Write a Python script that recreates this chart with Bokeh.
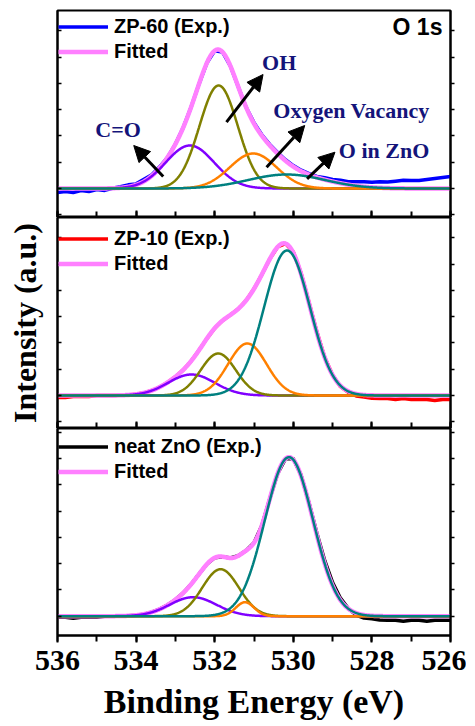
import numpy as np
from bokeh.plotting import figure
from bokeh.layouts import column
from bokeh.models import (Range1d, LinearAxis, SingleIntervalTicker, Legend, LegendItem,
                          Arrow, NormalHead, Label)
from bokeh.embed import file_html
from bokeh.resources import INLINE

# ---------------- data ----------------
x_start, x_end = 536, 526
exp_grid = np.linspace(536.0, 526.0, 51)  # measured points every 0.2 eV

component_names = ["C=O", "OH", "Oxygen Vacancy", "O in ZnO"]
component_colors = ["#8000ff", "#808000", "#ff8000", "#008080"]

# ZP-60 fit components: centre (eV), height (a.u.), FWHM (eV)
zp60_center = [532.63, 531.90, 531.02, 530.17]
zp60_height = [43, 103, 35, 14]
zp60_fwhm = [1.45, 1.15, 1.4, 2.3]
# experimental minus fit (a.u.) at the 0.2 eV grid
zp60_resid = [-4, -3, -4, -2, -3, -1, -2, 0, 1, 2,
              1, 2, 1, 1, 0, 0, 0, 0, 0, 0,
              0, 0, 0, 0, 0, 1, 1, 1, 1, 1,
              1, 1, 1, 1, 2, 2, 3, 3, 4, 5,
              5, 6, 6, 7, 8, 8, 8, 9, 10, 11, 12]

zp10_center = [532.59, 531.91, 531.17, 530.16]
zp10_height = [21, 42, 52, 145]
zp10_fwhm = [1.4, 1.05, 1.15, 1.38]
zp10_resid = [-2, -2, -1, -1, -1, 0, 0, 0, 0, 0,
              0, 0, 0, 0, 0, 0, 0, 0, 0, 0,
              0, 0, 0, 0, 0, 0, 0, 0, 0, 0,
              1, 1, 1, 1, 0, 0, -1, -1, -2, -2,
              -3, -3, -3, -4, -3, -4, -4, -4, -5, -4, -4]

zno_center = [532.55, 531.85, 531.23, 530.11]
zno_height = [19, 47, 14, 159]
zno_fwhm = [1.4, 1.1, 0.55, 1.44]
zno_resid = [-1, -1, -2, -1, -1, -1, 0, 0, 0, 0,
             0, 0, 0, 0, 0, 0, 0, 0, 0, 0,
             0, 0, 0, 0, 0, 0, 0, 0, 0, 0,
             1, 1, 1, 2, 3, 3, 2, 0, -2, -3,
             -3, -4, -4, -4, -5, -4, -4, -5, -4, -4, -4]

SANS = "Liberation Sans"
SERIF = "Liberation Serif"
NAVY = "#14147a"


def gauss(x, c, h, w):
    s = w / 2.3548
    return h * np.exp(-0.5 * ((x - c) / s) ** 2)


def fit_sum(x, centers, heights, fwhms):
    return sum(gauss(x, c, h, w) for c, h, w in zip(centers, heights, fwhms))


def hide_labels(ax):
    ax.major_label_text_color = None
    ax.major_label_text_alpha = 0
    ax.major_label_text_font_size = "0px"
    ax.major_label_standoff = 0


xr = Range1d(x_start, x_end)
xd = np.linspace(536, 526, 801)


def panel(centers, heights, fwhms, resid, exp_label, exp_color, yr, fh, top_border,
          legend_y, bottom=False):
    p = figure(frame_width=393, frame_height=fh, x_range=xr, y_range=Range1d(*yr),
               title=None,
               min_border_left=57, min_border_right=16, min_border_top=top_border,
               min_border_bottom=0, output_backend="svg", toolbar_location=None)
    p.xgrid.visible = False
    p.ygrid.visible = False
    p.outline_line_color = "black"
    p.outline_line_width = 2
    p.background_fill_color = "white"

    xa = p.xaxis[0]
    xa.ticker = SingleIntervalTicker(interval=2, num_minor_ticks=2)
    xa.axis_line_width = 2
    xa.major_tick_line_width = 2
    xa.minor_tick_line_width = 2
    if bottom:
        xa.major_tick_in = 0
        xa.major_tick_out = 7
        xa.minor_tick_in = 0
        xa.minor_tick_out = 6
        xa.major_label_text_font = SERIF
        xa.major_label_text_font_style = "bold"
        xa.major_label_text_font_size = "30px"
        xa.major_label_text_color = "black"
        xa.major_label_standoff = 8
        xa.axis_label = "Binding Energy (eV)"
        xa.axis_label_text_font = SERIF
        xa.axis_label_text_font_style = "bold"
        xa.axis_label_text_font_size = "34px"
        xa.axis_label_text_color = "black"
        xa.axis_label_standoff = 10
    else:
        xa.major_tick_in = 7
        xa.major_tick_out = 0
        xa.minor_tick_in = 6
        xa.minor_tick_out = 0
        hide_labels(xa)

    ya = p.yaxis[0]
    ya.ticker = SingleIntervalTicker(interval=26.3, num_minor_ticks=0)
    ya.axis_line_width = 2
    ya.major_tick_in = 4
    ya.major_tick_out = 0
    ya.major_tick_line_width = 1.5
    hide_labels(ya)

    ra = LinearAxis(ticker=SingleIntervalTicker(interval=26.3, num_minor_ticks=0))
    ra.axis_line_width = 2
    ra.major_tick_in = 0
    ra.major_tick_out = 4
    ra.major_tick_line_width = 1.5
    hide_labels(ra)
    p.add_layout(ra, "right")

    fit = fit_sum(xd, centers, heights, fwhms)
    exp_y = fit_sum(exp_grid, centers, heights, fwhms) + np.array(resid, dtype=float)
    r_exp = p.line(exp_grid, exp_y, line_color=exp_color, line_width=3.5, line_join="round")
    r_fit = p.line(xd, fit, line_color="#ff80ff", line_width=4.5, line_join="round")
    for c, h, w, col in zip(centers, heights, fwhms, component_colors):
        p.line(xd, gauss(xd, c, h, w), line_color=col, line_width=2.5)

    leg = Legend(items=[LegendItem(label=exp_label, renderers=[r_exp]),
                        LegendItem(label="Fitted", renderers=[r_fit])],
                 location=(1, legend_y), padding=0, spacing=0, margin=0,
                 glyph_width=50, glyph_height=25, label_height=25, label_standoff=6,
                 label_text_font=SANS, label_text_font_style="bold",
                 label_text_font_size="20px", label_text_color="black",
                 border_line_color=None, background_fill_alpha=0)
    p.add_layout(leg, "center")
    return p


p1 = panel(zp60_center, zp60_height, zp60_fwhm, zp60_resid, "ZP-60 (Exp.)", "#0000ff",
           (-29, 178), 207, 10, 153.5)
p2 = panel(zp10_center, zp10_height, zp10_fwhm, zp10_resid, "ZP-10 (Exp.)", "#ff0000",
           (-33, 178), 211, 0, 152.2)
p3 = panel(zno_center, zno_height, zno_fwhm, zno_resid, "neat ZnO (Exp.)", "#000000",
           (-19.3, 187.7), 207, 0, 150.8, bottom=True)

# y axis title on the middle panel
p2.yaxis[0].axis_label = "Intensity (a.u.)"
p2.yaxis[0].axis_label_text_font = SERIF
p2.yaxis[0].axis_label_text_font_style = "bold"
p2.yaxis[0].axis_label_text_font_size = "32px"
p2.yaxis[0].axis_label_text_color = "black"
p2.yaxis[0].axis_label_standoff = 15

# annotations in the top panel
p1.add_layout(Label(x=526.84, y=161.5, text="O 1s", text_align="center", text_baseline="middle",
                    text_font=SANS, text_font_style="bold", text_font_size="23px",
                    text_color="black"))
ann_text = ["OH", "Oxygen Vacancy", "C=O", "O in ZnO"]
ann_x = [530.36, 528.52, 534.46, 527.69]
ann_y = [126.3, 78, 59, 38]
for t, x, y in zip(ann_text, ann_x, ann_y):
    p1.add_layout(Label(x=x, y=y, text=t, text_align="center", text_baseline="middle",
                        text_font=SERIF, text_font_style="bold", text_font_size="22px",
                        text_color=NAVY))

arrow_x0 = [533.31, 531.70, 530.68, 529.65]
arrow_y0 = [12, 66.3, 21.3, 9.7]
arrow_x1 = [534.06, 530.77, 529.71, 528.94]
arrow_y1 = [43, 114, 63, 36.3]
for x0, y0, x1, y1 in zip(arrow_x0, arrow_y0, arrow_x1, arrow_y1):
    p1.add_layout(Arrow(x_start=x0, y_start=y0, x_end=x1, y_end=y1, line_width=3,
                        line_color="black",
                        end=NormalHead(size=16, fill_color="black", line_color="black",
                                       line_width=1)))

layout = column(p1, p2, p3, spacing=0)
open("out.html", "w").write(file_html(layout, INLINE))
